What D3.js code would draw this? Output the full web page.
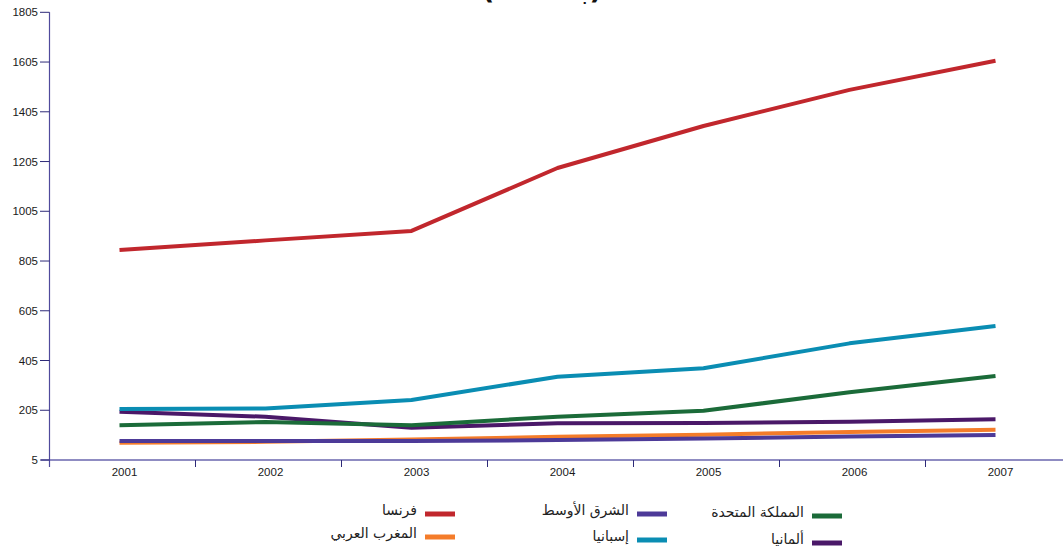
<!DOCTYPE html>
<html lang="ar">
<head>
<meta charset="utf-8">
<script src="https://cdn.jsdelivr.net/npm/d3@7"></script>
<style>
  html, body { margin: 0; padding: 0; background: #ffffff; }
  svg { display: block; }
  .tick-label { font-family: "Liberation Sans", Arial, sans-serif; font-size: 11.5px; fill: #1a1a1a; }
  .legend-label { font-family: "DejaVu Sans", "Noto Sans", sans-serif; font-size: 14px; fill: #222; }
</style>
</head>
<body>
<svg id="chart" width="1063" height="549"></svg>
<script>
// Years on the horizontal axis
const years = ["2001", "2002", "2003", "2004", "2005", "2006", "2007"];
// Vertical tick values
const yTicks = [5, 205, 405, 605, 805, 1005, 1205, 1405, 1605, 1805];

// Series values per year
const france     = [849, 888, 926, 1179, 1348, 1493, 1610];
const spain      = [210, 212, 246, 340, 374, 474, 544];
const uk         = [145, 158, 145, 179, 203, 277, 343];
const germany    = [199, 179, 135, 153, 154, 159, 169];
const middleEast = [81, 81, 81, 85, 91, 99, 106];
const maghreb    = [74, 78, 87, 98, 107, 118, 127];

// Series names (legend) and colours
const seriesNames  = ["فرنسا", "المغرب العربي", "الشرق الأوسط", "إسبانيا", "المملكة المتحدة", "ألمانيا"];
const seriesColors = ["#c1272d", "#f47c2a", "#4d3a98", "#0a8db3", "#1b6b39", "#4a1868"];
const seriesValues = [france, maghreb, middleEast, spain, uk, germany];

// Drawing order, bottom to top
const drawOrder = [1, 2, 5, 4, 3, 0];

const svg = d3.select("#chart");

const x = d3.scaleBand().domain(years).range([49.5, 49.5 + 146 * 7]);
const y = d3.scaleLinear().domain([5, 1805]).range([460, 12.3]);

// Title (runs off the top edge)
svg.append("text")
  .attr("x", 542).attr("y", -1)
  .attr("text-anchor", "middle")
  .attr("direction", "rtl")
  .style("font-family", "DejaVu Sans, sans-serif")
  .style("font-weight", "bold")
  .style("font-size", "28px")
  .attr("fill", "#111")
  .text("(بالآلاف)");

// X axis baseline
svg.append("line")
  .attr("x1", 41).attr("x2", 1063)
  .attr("y1", y(5)).attr("y2", y(5))
  .attr("stroke", "#8f8cc2").attr("stroke-width", 2);

// X axis ticks at band boundaries
const xBoundaries = years.map(d => x(d)).slice(1);
svg.selectAll(".xtick").data(xBoundaries).enter().append("line")
  .attr("x1", d => d).attr("x2", d => d)
  .attr("y1", y(5)).attr("y2", y(5) + 7)
  .attr("stroke", "#2e2a78").attr("stroke-width", 1);

// X labels
svg.selectAll(".xlab").data(years).enter().append("text")
  .attr("class", "tick-label")
  .attr("x", d => x(d) + x.bandwidth() / 2 + 2)
  .attr("y", 476)
  .attr("text-anchor", "middle")
  .text(d => d);

// Y axis line
svg.append("line")
  .attr("x1", 49.5).attr("x2", 49.5)
  .attr("y1", y(1805)).attr("y2", y(5) + 7)
  .attr("stroke", "#4f4a9c").attr("stroke-width", 1.2);

// Y ticks and labels
const yt = svg.selectAll(".ytick").data(yTicks).enter().append("g");
yt.append("line")
  .attr("x1", 40).attr("x2", 49.5)
  .attr("y1", d => y(d)).attr("y2", d => y(d))
  .attr("stroke", "#2e2a78").attr("stroke-width", 1);
yt.append("text")
  .attr("class", "tick-label")
  .attr("x", 38)
  .attr("y", d => y(d) + 4)
  .attr("text-anchor", "end")
  .text(d => d);

// Lines
const line = d3.line()
  .x((d, i) => x(years[i]) + x.bandwidth() / 2 - 3)
  .y(d => y(d));

drawOrder.forEach(k => {
  svg.append("path")
    .datum(seriesValues[k])
    .attr("d", line)
    .attr("fill", "none")
    .attr("stroke", seriesColors[k])
    .attr("stroke-width", 4)
    .attr("stroke-linejoin", "round");
});

// Legend: three columns, two rows; swatch right of the text
const legendCols = [425, 637, 812];
const legendRows = [[514, 537], [514, 540], [516, 543]];
seriesNames.forEach((name, k) => {
  const col = Math.floor(k / 2), row = k % 2;
  const sx = legendCols[col], sy = legendRows[col][row];
  const g = svg.append("g");
  g.append("line")
    .attr("x1", sx).attr("x2", sx + 30)
    .attr("y1", sy).attr("y2", sy)
    .attr("stroke", seriesColors[k]).attr("stroke-width", 5);
  g.append("text")
    .attr("class", "legend-label")
    .attr("x", sx - 8)
    .attr("y", sy + 1)
    .attr("text-anchor", "start")
    .attr("direction", "rtl")
    .text(name);
});
</script>
</body>
</html>
